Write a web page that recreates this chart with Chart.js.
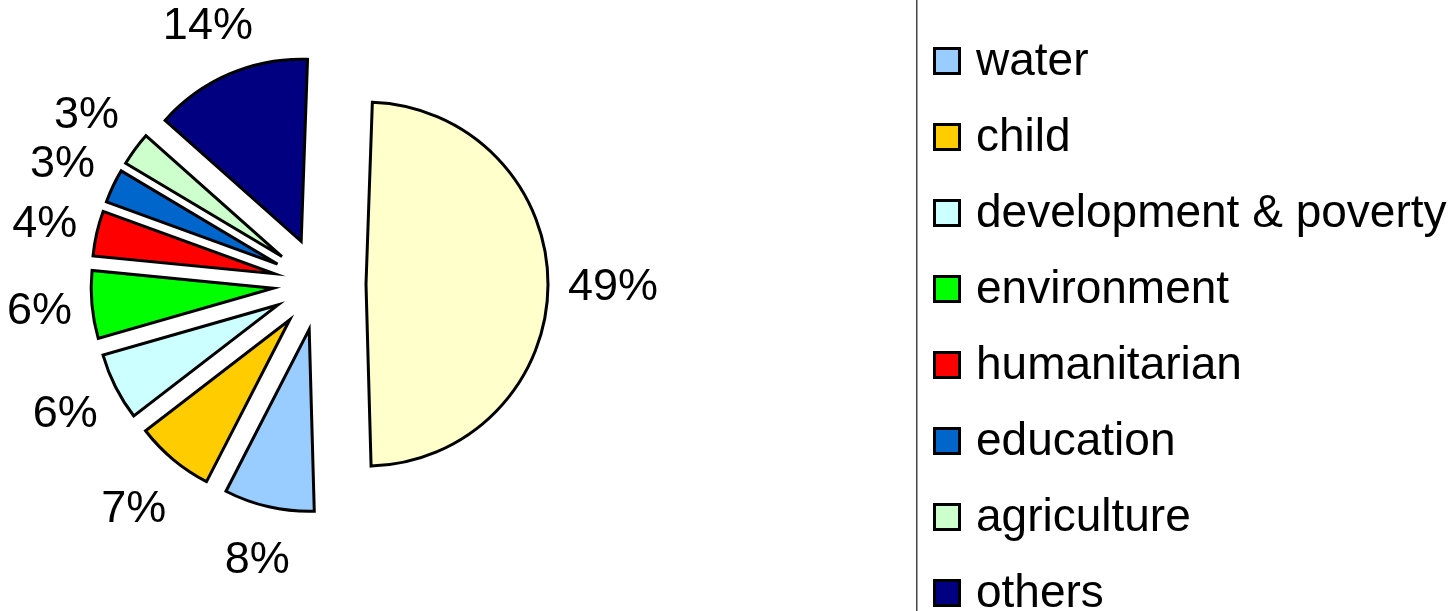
<!DOCTYPE html>
<html>
    <head>
        <meta charset="UTF-8">
        <title>Exploded pie</title>
        <script src="https://cdn.jsdelivr.net/npm/chart.js@4.4.1/dist/chart.umd.min.js"></script>
        <style>
            body {
                margin: 0;
                background: #fff;
            }
            #box {
                width: 1449px;
                height: 611px;
            }
        </style>
    </head>
    <body>
        <div id="box"><canvas id="pie"></canvas></div>
        <script>
            // the first (largest) slice has its legend row above the visible area
            const categories = ['', 'water', 'child', 'development & poverty', 'environment',
                'humanitarian', 'education', 'agriculture', 'others'];
            const shares = [49, 8, 7, 6, 6, 4, 3, 3, 14];
            const colours = ['#FFFFCC', '#99CCFF', '#FFCC00', '#CCFFFF', '#00FF00',
                '#FF0000', '#0066CC', '#CCFFCC', '#000080'];

            const EXPLODE = 46.5;
            const LABEL_GAP = 20;
            const LABEL_HALF_H = 32;
            const LABEL_FONT = '45px "Liberation Sans", Arial, sans-serif';
            const LEGEND_FONT = '46px "Liberation Sans", Arial, sans-serif';

            // every slice pushed out from the centre along its middle angle
            const explodeSlices = {
                id: 'explodeSlices',
                beforeDatasetDraw(chart, args) {
                    const ctx = chart.ctx;
                    args.meta.data.forEach(arc => {
                        const mid = (arc.startAngle + arc.endAngle) / 2;
                        ctx.save();
                        ctx.translate(Math.cos(mid) * EXPLODE, Math.sin(mid) * EXPLODE);
                        arc.draw(ctx, chart.chartArea);
                        ctx.restore();
                    });
                    return false;
                }
            };

            const sliceLabels = {
                id: 'sliceLabels',
                afterDatasetsDraw(chart) {
                    const ctx = chart.ctx;
                    const arcs = chart.getDatasetMeta(0).data;
                    const total = shares.reduce((a, b) => a + b, 0);
                    ctx.save();
                    ctx.font = LABEL_FONT;
                    ctx.fillStyle = '#000';
                    ctx.textAlign = 'center';
                    ctx.textBaseline = 'alphabetic';
                    arcs.forEach((arc, i) => {
                        const text = Math.round(shares[i] / total * 100) + '%';
                        const mid = (arc.startAngle + arc.endAngle) / 2;
                        const c = Math.cos(mid), s = Math.sin(mid);
                        const halfW = ctx.measureText(text).width / 2;
                        const reach = Math.min(halfW / Math.max(Math.abs(c), 1e-6),
                            LABEL_HALF_H / Math.max(Math.abs(s), 1e-6));
                        const r = EXPLODE + arc.outerRadius + LABEL_GAP + reach;
                        ctx.fillText(text, arc.x + c * r, arc.y + s * r + 15);
                    });
                    ctx.restore();
                }
            };

            const sideLegend = {
                id: 'sideLegend',
                afterDraw(chart) {
                    const ctx = chart.ctx;
                    const left = 917, top = -15, gap = 76;
                    ctx.save();
                    ctx.fillStyle = '#444';
                    ctx.fillRect(left - 1, 0, 1.5, chart.height);
                    ctx.font = LEGEND_FONT;
                    ctx.textAlign = 'left';
                    ctx.textBaseline = 'alphabetic';
                    categories.forEach((name, i) => {
                        if (!name) return;
                        const y = top + gap * i;
                        ctx.fillStyle = colours[i];
                        ctx.fillRect(934.5, y - 12.5, 25, 25);
                        ctx.lineWidth = 3;
                        ctx.strokeStyle = '#000';
                        ctx.strokeRect(934.5, y - 12.5, 25, 25);
                        ctx.fillStyle = '#000';
                        ctx.fillText(name, 976, y + 14);
                    });
                    ctx.restore();
                }
            };

            new Chart(document.getElementById('pie'), {
                type: 'pie',
                data: {
                    labels: categories,
                    datasets: [{
                        data: shares,
                        backgroundColor: colours,
                        borderColor: '#000',
                        borderWidth: 3,
                        borderJoinStyle: 'miter'
                    }]
                },
                options: {
                    responsive: true,
                    maintainAspectRatio: false,
                    animation: false,
                    events: [],
                    rotation: 2,
                    radius: 182,
                    layout: {
                        padding: { left: 0, right: 810, top: 0, bottom: 43 }
                    },
                    plugins: {
                        legend: { display: false },
                        tooltip: { enabled: false }
                    }
                },
                plugins: [explodeSlices, sliceLabels, sideLegend]
            });
        </script>
    </body>
</html>
